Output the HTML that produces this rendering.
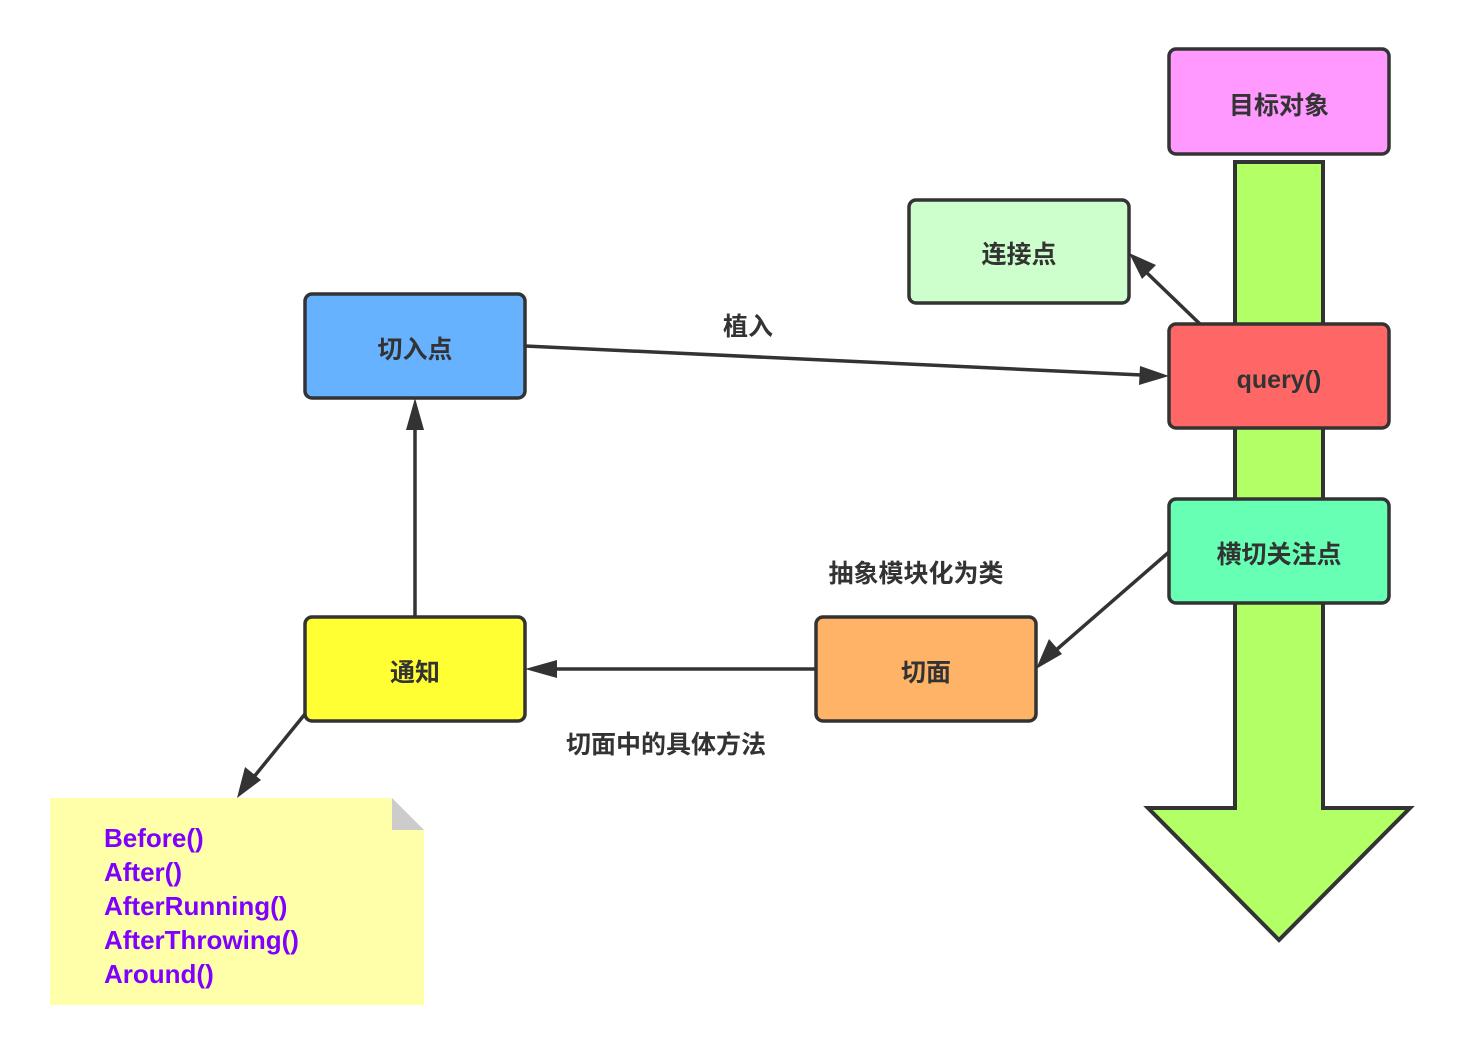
<!DOCTYPE html>
<html><head><meta charset="utf-8"><style>
html,body{margin:0;padding:0;background:#fff;}
svg text{font-family:"Liberation Sans","Noto Sans CJK SC",sans-serif;font-weight:bold;}
</style></head><body>
<svg width="1459" height="1056" viewBox="0 0 1459 1056" xmlns="http://www.w3.org/2000/svg">
<defs>
<marker id="a" markerWidth="10" markerHeight="10" refX="9" refY="5" orient="auto" markerUnits="userSpaceOnUse" viewBox="0 0 10 10">
</marker>
</defs>
<!-- big arrow -->
<polygon points="1235,162 1323,162 1323,808 1410,808 1279,940 1148,808 1235,808" fill="#B3FF66" stroke="#333" stroke-width="4" stroke-linejoin="miter"/>
<!-- boxes -->
<g stroke="#333" stroke-width="3.5">
<rect x="1169" y="49" width="220" height="105" rx="7" fill="#FF99FF"/>
<rect x="909" y="200" width="220" height="103" rx="7" fill="#CCFFCC"/>
<rect x="305" y="294" width="220" height="104" rx="7" fill="#66B2FF"/>
<rect x="1169" y="324" width="220" height="104" rx="7" fill="#FF6666"/>
<rect x="1169" y="499" width="220" height="104" rx="7" fill="#66FFB3"/>
<rect x="816" y="617" width="220" height="104" rx="7" fill="#FFB366"/>
<rect x="305" y="617" width="220" height="104" rx="7" fill="#FFFF33"/>
</g>
<!-- note -->
<polygon points="50,798 392,798 424,830 424,1005 50,1005" fill="#FFFFAA"/>
<polygon points="392,798 424,830 392,830" fill="#CCCCCC"/>
<!-- connectors -->
<g stroke="#333" stroke-width="3.5" fill="none">
<line x1="525" y1="346" x2="1142" y2="375"/>
<line x1="415" y1="617" x2="415" y2="425"/>
<line x1="816" y1="669" x2="552" y2="669"/>
<line x1="1169" y1="552" x2="1055" y2="651"/>
<line x1="1200" y1="324" x2="1146" y2="272"/>
<line x1="305" y1="714" x2="253" y2="778"/>
</g>
<g fill="#333">
<polygon points="1169,376 1139,385 1140,366"/>
<polygon points="415,398 406,430 424,430"/>
<polygon points="525,669 557,660 557,678"/>
<polygon points="1036,669 1049,639 1062,654"/>
<polygon points="1129,253 1156,265 1142,279"/>
<polygon points="237,798 245,767 261,780"/>
</g>
<!-- labels -->
<g fill="#333" font-size="25" text-anchor="middle">
<text x="1279" y="114">目标对象</text>
<text x="1019" y="263">连接点</text>
<text x="415" y="358">切入点</text>
<text x="1279" y="388">query()</text>
<text x="1279" y="563">横切关注点</text>
<text x="926" y="681">切面</text>
<text x="415" y="681">通知</text>
<text x="748" y="335">植入</text>
<text x="916" y="582">抽象模块化为类</text>
<text x="666" y="753">切面中的具体方法</text>
</g>
<g fill="#7F00FF" font-size="26">
<text x="104" y="847">Before()</text>
<text x="104" y="881">After()</text>
<text x="104" y="915">AfterRunning()</text>
<text x="104" y="949">AfterThrowing()</text>
<text x="104" y="983">Around()</text>
</g>
</svg>
</body></html>
